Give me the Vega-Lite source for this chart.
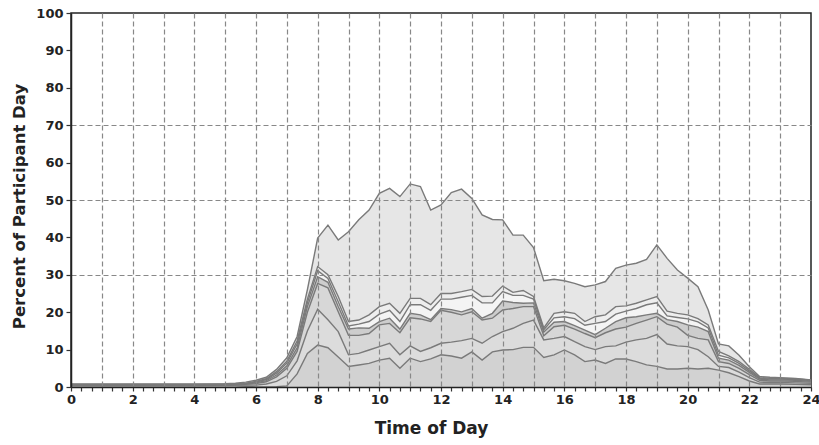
{
  "$schema": "https://vega.github.io/schema/vega-lite/v6.json",
  "autosize": "none",
  "width": 740,
  "height": 374,
  "padding": {"left": 71, "top": 13, "right": 8, "bottom": 58},
  "background": "white",
  "config": {
    "view": {"stroke": "#222222", "strokeWidth": 1.5},
    "axis": {
      "labelFont": "DejaVu Sans", "labelFontWeight": "bold", "labelFontSize": 13, "labelColor": "#222222",
      "titleFont": "DejaVu Sans", "titleFontWeight": "bold", "titleColor": "#222222",
      "domainColor": "#222222", "domainWidth": 1.5, "tickColor": "#333333", "tickWidth": 1.2,
      "gridColor": "#888888", "gridDash": [5, 3], "gridWidth": 1.2
    }
  },
  "data": {"values": [
    {"t":0,"s":"S7","v":0.3},{"t":0,"s":"S6","v":0.1},{"t":0,"s":"S5","v":0.1},{"t":0,"s":"S4","v":0.05},{"t":0,"s":"S3","v":0.05},{"t":0,"s":"S2","v":0.1},{"t":0,"s":"S1","v":0.1},
    {"t":1,"s":"S7","v":0.3},{"t":1,"s":"S6","v":0.1},{"t":1,"s":"S5","v":0.1},{"t":1,"s":"S4","v":0.05},{"t":1,"s":"S3","v":0.05},{"t":1,"s":"S2","v":0.1},{"t":1,"s":"S1","v":0.1},
    {"t":2,"s":"S7","v":0.3},{"t":2,"s":"S6","v":0.1},{"t":2,"s":"S5","v":0.1},{"t":2,"s":"S4","v":0.05},{"t":2,"s":"S3","v":0.05},{"t":2,"s":"S2","v":0.1},{"t":2,"s":"S1","v":0.1},
    {"t":3,"s":"S7","v":0.3},{"t":3,"s":"S6","v":0.1},{"t":3,"s":"S5","v":0.1},{"t":3,"s":"S4","v":0.05},{"t":3,"s":"S3","v":0.05},{"t":3,"s":"S2","v":0.1},{"t":3,"s":"S1","v":0.1},
    {"t":4,"s":"S7","v":0.3},{"t":4,"s":"S6","v":0.1},{"t":4,"s":"S5","v":0.1},{"t":4,"s":"S4","v":0.05},{"t":4,"s":"S3","v":0.05},{"t":4,"s":"S2","v":0.1},{"t":4,"s":"S1","v":0.1},
    {"t":5,"s":"S7","v":0.3},{"t":5,"s":"S6","v":0.15},{"t":5,"s":"S5","v":0.1},{"t":5,"s":"S4","v":0.05},{"t":5,"s":"S3","v":0.05},{"t":5,"s":"S2","v":0.1},{"t":5,"s":"S1","v":0.15},
    {"t":5.3333,"s":"S7","v":0.3},{"t":5.3333,"s":"S6","v":0.2},{"t":5.3333,"s":"S5","v":0.1},{"t":5.3333,"s":"S4","v":0.05},{"t":5.3333,"s":"S3","v":0.05},{"t":5.3333,"s":"S2","v":0.1},{"t":5.3333,"s":"S1","v":0.2},
    {"t":5.6667,"s":"S7","v":0.2},{"t":5.6667,"s":"S6","v":0.3},{"t":5.6667,"s":"S5","v":0.2},{"t":5.6667,"s":"S4","v":0.1},{"t":5.6667,"s":"S3","v":0.1},{"t":5.6667,"s":"S2","v":0.1},{"t":5.6667,"s":"S1","v":0.3},
    {"t":6,"s":"S7","v":0},{"t":6,"s":"S6","v":0.5},{"t":6,"s":"S5","v":0.4},{"t":6,"s":"S4","v":0.2},{"t":6,"s":"S3","v":0.2},{"t":6,"s":"S2","v":0.2},{"t":6,"s":"S1","v":0.3},
    {"t":6.3333,"s":"S7","v":0},{"t":6.3333,"s":"S6","v":0.8},{"t":6.3333,"s":"S5","v":0.6},{"t":6.3333,"s":"S4","v":0.3},{"t":6.3333,"s":"S3","v":0.3},{"t":6.3333,"s":"S2","v":0.2},{"t":6.3333,"s":"S1","v":0.4},
    {"t":6.6667,"s":"S7","v":0.1},{"t":6.6667,"s":"S6","v":1.4},{"t":6.6667,"s":"S5","v":1.2},{"t":6.6667,"s":"S4","v":0.5},{"t":6.6667,"s":"S3","v":0.5},{"t":6.6667,"s":"S2","v":0.4},{"t":6.6667,"s":"S1","v":0.6},
    {"t":7,"s":"S7","v":0.3},{"t":7,"s":"S6","v":2.7},{"t":7,"s":"S5","v":2},{"t":7,"s":"S4","v":0.7},{"t":7,"s":"S3","v":0.7},{"t":7,"s":"S2","v":0.5},{"t":7,"s":"S1","v":0.9},
    {"t":7.3333,"s":"S7","v":3.5},{"t":7.3333,"s":"S6","v":3.5},{"t":7.3333,"s":"S5","v":2.5},{"t":7.3333,"s":"S4","v":1},{"t":7.3333,"s":"S3","v":1},{"t":7.3333,"s":"S2","v":0.8},{"t":7.3333,"s":"S1","v":1.2},
    {"t":7.6667,"s":"S7","v":9},{"t":7.6667,"s":"S6","v":6},{"t":7.6667,"s":"S5","v":5},{"t":7.6667,"s":"S4","v":1.5},{"t":7.6667,"s":"S3","v":1},{"t":7.6667,"s":"S2","v":1},{"t":7.6667,"s":"S1","v":2.5},
    {"t":8,"s":"S7","v":11.2},{"t":8,"s":"S6","v":9.6},{"t":8,"s":"S5","v":6.9},{"t":8,"s":"S4","v":1.8},{"t":8,"s":"S3","v":1.6},{"t":8,"s":"S2","v":1.1},{"t":8,"s":"S1","v":7.6},
    {"t":8.3333,"s":"S7","v":10.5},{"t":8.3333,"s":"S6","v":7.5},{"t":8.3333,"s":"S5","v":8.5},{"t":8.3333,"s":"S4","v":1.5},{"t":8.3333,"s":"S3","v":1},{"t":8.3333,"s":"S2","v":1},{"t":8.3333,"s":"S1","v":13.3},
    {"t":8.6667,"s":"S7","v":8},{"t":8.6667,"s":"S6","v":6.8},{"t":8.6667,"s":"S5","v":5.3},{"t":8.6667,"s":"S4","v":1.4},{"t":8.6667,"s":"S3","v":1.3},{"t":8.6667,"s":"S2","v":1.4},{"t":8.6667,"s":"S1","v":15.1},
    {"t":9,"s":"S7","v":5.5},{"t":9,"s":"S6","v":3.1},{"t":9,"s":"S5","v":5.2},{"t":9,"s":"S4","v":1.7},{"t":9,"s":"S3","v":0.8},{"t":9,"s":"S2","v":1.2},{"t":9,"s":"S1","v":24},
    {"t":9.3333,"s":"S7","v":5.9},{"t":9.3333,"s":"S6","v":3.1},{"t":9.3333,"s":"S5","v":4.8},{"t":9.3333,"s":"S4","v":2},{"t":9.3333,"s":"S3","v":1},{"t":9.3333,"s":"S2","v":1.1},{"t":9.3333,"s":"S1","v":26.8},
    {"t":9.6667,"s":"S7","v":6.3},{"t":9.6667,"s":"S6","v":3.6},{"t":9.6667,"s":"S5","v":4.4},{"t":9.6667,"s":"S4","v":1.4},{"t":9.6667,"s":"S3","v":1.8},{"t":9.6667,"s":"S2","v":1.8},{"t":9.6667,"s":"S1","v":28},
    {"t":10,"s":"S7","v":7.2},{"t":10,"s":"S6","v":3.6},{"t":10,"s":"S5","v":5.8},{"t":10,"s":"S4","v":0.9},{"t":10,"s":"S3","v":2},{"t":10,"s":"S2","v":2},{"t":10,"s":"S1","v":30.3},
    {"t":10.3333,"s":"S7","v":7.7},{"t":10.3333,"s":"S6","v":4},{"t":10.3333,"s":"S5","v":5.3},{"t":10.3333,"s":"S4","v":1.4},{"t":10.3333,"s":"S3","v":2.1},{"t":10.3333,"s":"S2","v":1.9},{"t":10.3333,"s":"S1","v":30.7},
    {"t":10.6667,"s":"S7","v":5},{"t":10.6667,"s":"S6","v":3.6},{"t":10.6667,"s":"S5","v":5.9},{"t":10.6667,"s":"S4","v":1},{"t":10.6667,"s":"S3","v":2},{"t":10.6667,"s":"S2","v":2.2},{"t":10.6667,"s":"S1","v":31.2},
    {"t":11,"s":"S7","v":7.7},{"t":11,"s":"S6","v":3.3},{"t":11,"s":"S5","v":7.5},{"t":11,"s":"S4","v":1.2},{"t":11,"s":"S3","v":2.3},{"t":11,"s":"S2","v":1.7},{"t":11,"s":"S1","v":30.6},
    {"t":11.3333,"s":"S7","v":6.8},{"t":11.3333,"s":"S6","v":2.7},{"t":11.3333,"s":"S5","v":8.7},{"t":11.3333,"s":"S4","v":1.1},{"t":11.3333,"s":"S3","v":2.7},{"t":11.3333,"s":"S2","v":1.7},{"t":11.3333,"s":"S1","v":29.9},
    {"t":11.6667,"s":"S7","v":7.5},{"t":11.6667,"s":"S6","v":3},{"t":11.6667,"s":"S5","v":7},{"t":11.6667,"s":"S4","v":0.5},{"t":11.6667,"s":"S3","v":2.5},{"t":11.6667,"s":"S2","v":1.5},{"t":11.6667,"s":"S1","v":25.3},
    {"t":12,"s":"S7","v":8.6},{"t":12,"s":"S6","v":3.1},{"t":12,"s":"S5","v":8.8},{"t":12,"s":"S4","v":0.5},{"t":12,"s":"S3","v":2.5},{"t":12,"s":"S2","v":1.5},{"t":12,"s":"S1","v":23.7},
    {"t":12.3333,"s":"S7","v":8.3},{"t":12.3333,"s":"S6","v":3.7},{"t":12.3333,"s":"S5","v":8},{"t":12.3333,"s":"S4","v":0.7},{"t":12.3333,"s":"S3","v":2.8},{"t":12.3333,"s":"S2","v":1.5},{"t":12.3333,"s":"S1","v":27},
    {"t":12.6667,"s":"S7","v":7.7},{"t":12.6667,"s":"S6","v":4.7},{"t":12.6667,"s":"S5","v":6.9},{"t":12.6667,"s":"S4","v":0.8},{"t":12.6667,"s":"S3","v":3.9},{"t":12.6667,"s":"S2","v":1.5},{"t":12.6667,"s":"S1","v":27.4},
    {"t":13,"s":"S7","v":9.4},{"t":13,"s":"S6","v":3.6},{"t":13,"s":"S5","v":7.1},{"t":13,"s":"S4","v":0.9},{"t":13,"s":"S3","v":3.5},{"t":13,"s":"S2","v":1.6},{"t":13,"s":"S1","v":24.3},
    {"t":13.3333,"s":"S7","v":7.2},{"t":13.3333,"s":"S6","v":4.5},{"t":13.3333,"s":"S5","v":6.2},{"t":13.3333,"s":"S4","v":0.5},{"t":13.3333,"s":"S3","v":4.1},{"t":13.3333,"s":"S2","v":1.7},{"t":13.3333,"s":"S1","v":21.8},
    {"t":13.6667,"s":"S7","v":9.4},{"t":13.6667,"s":"S6","v":4.1},{"t":13.6667,"s":"S5","v":4.9},{"t":13.6667,"s":"S4","v":1.3},{"t":13.6667,"s":"S3","v":2.8},{"t":13.6667,"s":"S2","v":1.8},{"t":13.6667,"s":"S1","v":20.5},
    {"t":14,"s":"S7","v":9.9},{"t":14,"s":"S6","v":4.9},{"t":14,"s":"S5","v":5.8},{"t":14,"s":"S4","v":2.4},{"t":14,"s":"S3","v":2.5},{"t":14,"s":"S2","v":1.5},{"t":14,"s":"S1","v":17.7},
    {"t":14.3333,"s":"S7","v":10},{"t":14.3333,"s":"S6","v":5.7},{"t":14.3333,"s":"S5","v":5.3},{"t":14.3333,"s":"S4","v":1.6},{"t":14.3333,"s":"S3","v":1.9},{"t":14.3333,"s":"S2","v":0.8},{"t":14.3333,"s":"S1","v":15.3},
    {"t":14.6667,"s":"S7","v":10.6},{"t":14.6667,"s":"S6","v":6.4},{"t":14.6667,"s":"S5","v":4.5},{"t":14.6667,"s":"S4","v":0.9},{"t":14.6667,"s":"S3","v":2.1},{"t":14.6667,"s":"S2","v":1.3},{"t":14.6667,"s":"S1","v":14.8},
    {"t":15,"s":"S7","v":10.6},{"t":15,"s":"S6","v":7.3},{"t":15,"s":"S5","v":3.6},{"t":15,"s":"S4","v":1},{"t":15,"s":"S3","v":1},{"t":15,"s":"S2","v":0.7},{"t":15,"s":"S1","v":13.1},
    {"t":15.3333,"s":"S7","v":7.9},{"t":15.3333,"s":"S6","v":4.7},{"t":15.3333,"s":"S5","v":1.1},{"t":15.3333,"s":"S4","v":1},{"t":15.3333,"s":"S3","v":0.6},{"t":15.3333,"s":"S2","v":0.5},{"t":15.3333,"s":"S1","v":12.6},
    {"t":15.6667,"s":"S7","v":8.6},{"t":15.6667,"s":"S6","v":4.4},{"t":15.6667,"s":"S5","v":3.1},{"t":15.6667,"s":"S4","v":1.2},{"t":15.6667,"s":"S3","v":1.2},{"t":15.6667,"s":"S2","v":1.2},{"t":15.6667,"s":"S1","v":9.1},
    {"t":16,"s":"S7","v":9.9},{"t":16,"s":"S6","v":3.6},{"t":16,"s":"S5","v":3},{"t":16,"s":"S4","v":1},{"t":16,"s":"S3","v":1.3},{"t":16,"s":"S2","v":1.3},{"t":16,"s":"S1","v":8.3},
    {"t":16.3333,"s":"S7","v":8.6},{"t":16.3333,"s":"S6","v":3.5},{"t":16.3333,"s":"S5","v":3.4},{"t":16.3333,"s":"S4","v":0.9},{"t":16.3333,"s":"S3","v":1.9},{"t":16.3333,"s":"S2","v":1.4},{"t":16.3333,"s":"S1","v":8},
    {"t":16.6667,"s":"S7","v":6.8},{"t":16.6667,"s":"S6","v":4},{"t":16.6667,"s":"S5","v":3.5},{"t":16.6667,"s":"S4","v":0.9},{"t":16.6667,"s":"S3","v":1.3},{"t":16.6667,"s":"S2","v":1},{"t":16.6667,"s":"S1","v":9.3},
    {"t":17,"s":"S7","v":7.2},{"t":17,"s":"S6","v":2.8},{"t":17,"s":"S5","v":3.2},{"t":17,"s":"S4","v":0.8},{"t":17,"s":"S3","v":3},{"t":17,"s":"S2","v":1.8},{"t":17,"s":"S1","v":8.5},
    {"t":17.3333,"s":"S7","v":6.3},{"t":17.3333,"s":"S6","v":4.5},{"t":17.3333,"s":"S5","v":3.7},{"t":17.3333,"s":"S4","v":1.2},{"t":17.3333,"s":"S3","v":1.8},{"t":17.3333,"s":"S2","v":1.8},{"t":17.3333,"s":"S1","v":8.9},
    {"t":17.6667,"s":"S7","v":7.5},{"t":17.6667,"s":"S6","v":3.5},{"t":17.6667,"s":"S5","v":4.5},{"t":17.6667,"s":"S4","v":2},{"t":17.6667,"s":"S3","v":2},{"t":17.6667,"s":"S2","v":2},{"t":17.6667,"s":"S1","v":10.2},
    {"t":18,"s":"S7","v":7.5},{"t":18,"s":"S6","v":4.5},{"t":18,"s":"S5","v":4},{"t":18,"s":"S4","v":2.5},{"t":18,"s":"S3","v":1.8},{"t":18,"s":"S2","v":1.4},{"t":18,"s":"S1","v":10.9},
    {"t":18.3333,"s":"S7","v":6.8},{"t":18.3333,"s":"S6","v":5.8},{"t":18.3333,"s":"S5","v":4.4},{"t":18.3333,"s":"S4","v":1.8},{"t":18.3333,"s":"S3","v":2.2},{"t":18.3333,"s":"S2","v":1.4},{"t":18.3333,"s":"S1","v":10.7},
    {"t":18.6667,"s":"S7","v":5.9},{"t":18.6667,"s":"S6","v":7.1},{"t":18.6667,"s":"S5","v":4.9},{"t":18.6667,"s":"S4","v":1.4},{"t":18.6667,"s":"S3","v":2.7},{"t":18.6667,"s":"S2","v":1.3},{"t":18.6667,"s":"S1","v":10.8},
    {"t":19,"s":"S7","v":5.5},{"t":19,"s":"S6","v":8.5},{"t":19,"s":"S5","v":4.8},{"t":19,"s":"S4","v":0.9},{"t":19,"s":"S3","v":2.8},{"t":19,"s":"S2","v":1.7},{"t":19,"s":"S1","v":13.8},
    {"t":19.3333,"s":"S7","v":4.8},{"t":19.3333,"s":"S6","v":6.7},{"t":19.3333,"s":"S5","v":5.3},{"t":19.3333,"s":"S4","v":1.2},{"t":19.3333,"s":"S3","v":1},{"t":19.3333,"s":"S2","v":1.3},{"t":19.3333,"s":"S1","v":14.1},
    {"t":19.6667,"s":"S7","v":4.8},{"t":19.6667,"s":"S6","v":6.2},{"t":19.6667,"s":"S5","v":5},{"t":19.6667,"s":"S4","v":1.5},{"t":19.6667,"s":"S3","v":1.1},{"t":19.6667,"s":"S2","v":1.1},{"t":19.6667,"s":"S1","v":11.6},
    {"t":20,"s":"S7","v":5},{"t":20,"s":"S6","v":5.8},{"t":20,"s":"S5","v":3},{"t":20,"s":"S4","v":2.8},{"t":20,"s":"S3","v":1.6},{"t":20,"s":"S2","v":1.1},{"t":20,"s":"S1","v":9.8},
    {"t":20.3333,"s":"S7","v":4.8},{"t":20.3333,"s":"S6","v":5.2},{"t":20.3333,"s":"S5","v":3},{"t":20.3333,"s":"S4","v":3},{"t":20.3333,"s":"S3","v":1.4},{"t":20.3333,"s":"S2","v":0.9},{"t":20.3333,"s":"S1","v":8.5},
    {"t":20.6667,"s":"S7","v":5},{"t":20.6667,"s":"S6","v":3.1},{"t":20.6667,"s":"S5","v":4.5},{"t":20.6667,"s":"S4","v":2.2},{"t":20.6667,"s":"S3","v":1},{"t":20.6667,"s":"S2","v":0.8},{"t":20.6667,"s":"S1","v":4},
    {"t":21,"s":"S7","v":4.5},{"t":21,"s":"S6","v":1},{"t":21,"s":"S5","v":1.3},{"t":21,"s":"S4","v":0.9},{"t":21,"s":"S3","v":0.8},{"t":21,"s":"S2","v":1},{"t":21,"s":"S1","v":2},
    {"t":21.3333,"s":"S7","v":3.8},{"t":21.3333,"s":"S6","v":1.4},{"t":21.3333,"s":"S5","v":1.1},{"t":21.3333,"s":"S4","v":0.9},{"t":21.3333,"s":"S3","v":0.6},{"t":21.3333,"s":"S2","v":0.5},{"t":21.3333,"s":"S1","v":2.7},
    {"t":21.6667,"s":"S7","v":2.8},{"t":21.6667,"s":"S6","v":1.2},{"t":21.6667,"s":"S5","v":1},{"t":21.6667,"s":"S4","v":0.8},{"t":21.6667,"s":"S3","v":0.5},{"t":21.6667,"s":"S2","v":0.5},{"t":21.6667,"s":"S1","v":1.7},
    {"t":22,"s":"S7","v":1.6},{"t":22,"s":"S6","v":0.9},{"t":22,"s":"S5","v":0.8},{"t":22,"s":"S4","v":0.6},{"t":22,"s":"S3","v":0.4},{"t":22,"s":"S2","v":0.4},{"t":22,"s":"S1","v":0.7},
    {"t":22.3333,"s":"S7","v":0.8},{"t":22.3333,"s":"S6","v":0.5},{"t":22.3333,"s":"S5","v":0.5},{"t":22.3333,"s":"S4","v":0.3},{"t":22.3333,"s":"S3","v":0.2},{"t":22.3333,"s":"S2","v":0.2},{"t":22.3333,"s":"S1","v":0.3},
    {"t":22.6667,"s":"S7","v":0.8},{"t":22.6667,"s":"S6","v":0.4},{"t":22.6667,"s":"S5","v":0.4},{"t":22.6667,"s":"S4","v":0.3},{"t":22.6667,"s":"S3","v":0.2},{"t":22.6667,"s":"S2","v":0.2},{"t":22.6667,"s":"S1","v":0.3},
    {"t":23,"s":"S7","v":0.8},{"t":23,"s":"S6","v":0.4},{"t":23,"s":"S5","v":0.4},{"t":23,"s":"S4","v":0.3},{"t":23,"s":"S3","v":0.2},{"t":23,"s":"S2","v":0.2},{"t":23,"s":"S1","v":0.2},
    {"t":23.5,"s":"S7","v":0.7},{"t":23.5,"s":"S6","v":0.4},{"t":23.5,"s":"S5","v":0.4},{"t":23.5,"s":"S4","v":0.3},{"t":23.5,"s":"S3","v":0.2},{"t":23.5,"s":"S2","v":0.2},{"t":23.5,"s":"S1","v":0.1},
    {"t":24,"s":"S7","v":0.6},{"t":24,"s":"S6","v":0.4},{"t":24,"s":"S5","v":0.3},{"t":24,"s":"S4","v":0.2},{"t":24,"s":"S3","v":0.2},{"t":24,"s":"S2","v":0.1},{"t":24,"s":"S1","v":0.1}
  ]},
  "encoding": {
    "x": {
      "field": "t", "type": "quantitative",
      "scale": {"domain": [0, 24], "nice": false, "zero": false},
      "axis": {
        "title": "Time of Day", "titleFontSize": 17, "titleX": 360, "titleY": 46, "titleBaseline": "alphabetic",
        "values": [0,0.3333,0.6667,1,1.3333,1.6667,2,2.3333,2.6667,3,3.3333,3.6667,4,4.3333,4.6667,5,5.3333,5.6667,6,6.3333,6.6667,7,7.3333,7.6667,8,8.3333,8.6667,9,9.3333,9.6667,10,10.3333,10.6667,11,11.3333,11.6667,12,12.3333,12.6667,13,13.3333,13.6667,14,14.3333,14.6667,15,15.3333,15.6667,16,16.3333,16.6667,17,17.3333,17.6667,18,18.3333,18.6667,19,19.3333,19.6667,20,20.3333,20.6667,21,21.3333,21.6667,22,22.3333,22.6667,23,23.3333,23.6667,24],
        "labelExpr": "datum.value % 2 === 0 ? format(datum.value, 'd') : ''",
        "labelFlush": false, "labelOverlap": false,
        "tickSize": 4, "labelPadding": 2,
        "grid": true,
        "gridOpacity": {"condition": {"test": "datum.value % 1 === 0 && datum.value > 0 && datum.value < 24", "value": 1}, "value": 0},
        "zindex": 1
      }
    },
    "y": {
      "field": "v", "type": "quantitative", "stack": "zero",
      "scale": {"domain": [0, 100], "nice": false},
      "axis": {
        "title": "Percent of Participant Day", "titleFontSize": 16.5, "titleX": -47, "titleY": 193, "titleBaseline": "alphabetic", "titleAngle": -90,
        "values": [0,10,20,30,40,50,60,70,80,90,100],
        "tickSize": 5, "labelPadding": 3,
        "grid": true,
        "gridOpacity": {"condition": {"test": "datum.value === 30 || datum.value === 50 || datum.value === 70", "value": 1}, "value": 0},
        "zindex": 1
      }
    }
  },
  "layer": [
    {
      "mark": {"type": "area", "opacity": 1, "interpolate": "linear"},
      "encoding": {
        "color": {
          "field": "s", "type": "nominal", "legend": null,
          "scale": {"domain": ["S7","S6","S5","S4","S3","S2","S1"], "range": ["#d2d2d2","#dcdcdc","#d7d7d7","#cdcdcd","#f4f4f4","#eeeeee","#e6e6e6"]}
        }
      }
    },
    {
      "mark": {"type": "line", "stroke": "#7a7a7a", "strokeWidth": 1.4, "interpolate": "linear"},
      "encoding": {
        "detail": {"field": "s", "type": "nominal"}
      }
    }
  ]
}
